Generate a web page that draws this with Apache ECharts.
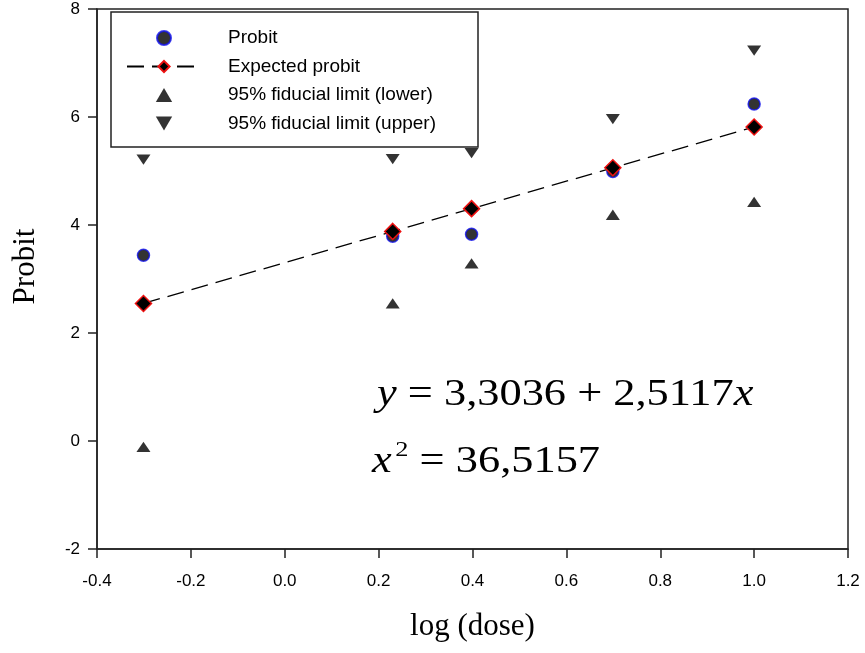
<!DOCTYPE html>
<html>
<head>
<meta charset="utf-8">
<script src="https://cdn.jsdelivr.net/npm/echarts@6/dist/echarts.min.js"></script>
<style>
  html, body { margin: 0; padding: 0; background: #fff; }
  #chart { width: 865px; height: 653px; }
</style>
</head>
<body>
<div id="chart"></div>
<script>
// log10 of dose
const logDose = [-0.301, 0.230, 0.398, 0.699, 1.0]
// observed probit
const probit = [3.44, 3.79, 3.83, 4.99, 6.24]
// expected probit, y = 3.3036 + 2.5117x
const expected = [2.547, 3.881, 4.303, 5.059, 5.815]
// 95% fiducial limits
const lowerLimit = [-0.11, 2.55, 3.29, 4.19, 4.43]
const upperLimit = [5.21, 5.22, 5.33, 5.96, 7.23]

const xTicks = { min: -0.4, max: 1.2, interval: 0.2 }
const yTicks = { min: -2, max: 8, interval: 2 }

const seriesNames = ['Probit', 'Expected probit', '95% fiducial limit (lower)', '95% fiducial limit (upper)']

const sans = 'Liberation Sans, Arial, sans-serif'
const serif = 'Liberation Serif, Times New Roman, serif'

// triangles as paths so the legend keeps their shape
const triUp = 'path://M7,0L14,12L0,12Z'
const triDown = 'path://M0,0L14,0L7,12Z'

const pair = (ys) => logDose.map((x, i) => [x, ys[i]])

const myChart = echarts.init(document.getElementById('chart'))

const axisCommon = {
  splitLine: { show: false },
  axisLine: { onZero: false, lineStyle: { color: '#222', width: 1.5 } },
  axisTick: { inside: false, length: 9, lineStyle: { color: '#222', width: 1.5 } }
}

const option = {
  animation: false,
  backgroundColor: '#fff',
  grid: {
    left: 97,
    right: 17,
    top: 9,
    bottom: 104,
    show: true,
    borderColor: '#222',
    borderWidth: 1.5
  },
  legend: {
    orient: 'vertical',
    left: 111,
    top: 12,
    padding: [16, 10, 16, 15],
    itemWidth: 74,
    itemHeight: 14,
    itemGap: 8.5,
    symbolKeepAspect: true,
    data: seriesNames,
    textStyle: {
      fontFamily: sans,
      fontSize: 19,
      color: '#000',
      lineHeight: 20,
      padding: [0, 0, 0, 22]
    }
  },
  xAxis: Object.assign({
    type: 'value',
    min: xTicks.min,
    max: xTicks.max,
    interval: xTicks.interval,
    name: 'log (dose)',
    nameLocation: 'middle',
    nameGap: 62,
    nameTextStyle: { fontFamily: serif, fontSize: 31, color: '#000' },
    axisLabel: {
      margin: 24,
      fontFamily: sans,
      fontSize: 17,
      color: '#000',
      formatter: (v) => v.toFixed(1)
    }
  }, axisCommon),
  yAxis: Object.assign({
    type: 'value',
    min: yTicks.min,
    max: yTicks.max,
    interval: yTicks.interval,
    name: 'Probit',
    nameLocation: 'middle',
    nameGap: 56,
    nameTextStyle: { fontFamily: serif, fontSize: 31, color: '#000', padding: [0, 0, 0, 25] },
    axisLabel: { margin: 17, fontFamily: sans, fontSize: 17, color: '#000' }
  }, axisCommon),
  series: [
    {
      name: seriesNames[0],
      type: 'scatter',
      data: pair(probit),
      symbol: 'circle',
      symbolSize: 12,
      itemStyle: { color: '#000', borderColor: '#1010ee', borderWidth: 1.5 },
      z: 3
    },
    {
      name: seriesNames[1],
      type: 'line',
      data: pair(expected),
      symbol: 'diamond',
      symbolSize: 16,
      lineStyle: { color: '#000', width: 1.3, type: [17, 8] },
      itemStyle: { color: '#000', borderColor: '#ee1111', borderWidth: 1.5 },
      z: 4
    },
    {
      name: seriesNames[2],
      type: 'scatter',
      data: pair(lowerLimit),
      symbol: triUp,
      symbolKeepAspect: true,
      symbolSize: [14, 12],
      itemStyle: { color: '#000' }
    },
    {
      name: seriesNames[3],
      type: 'scatter',
      data: pair(upperLimit),
      symbol: triDown,
      symbolKeepAspect: true,
      symbolSize: [14, 12],
      itemStyle: { color: '#000' }
    }
  ],
  graphic: [
    {
      // legend frame
      type: 'rect',
      shape: { x: 111, y: 12, width: 367, height: 135 },
      style: { fill: 'none', stroke: '#222', lineWidth: 1.5 },
      z: 10
    },
    {
      type: 'text',
      x: 377,
      y: 395,
      scaleX: 1.2,
      z: 10,
      style: {
        text: '{i|y} = 3,3036 + 2,5117{i|x}',
        fontFamily: serif,
        fontSize: 37,
        fill: '#000',
        verticalAlign: 'middle',
        rich: {
          i: { fontFamily: serif, fontSize: 37, fontStyle: 'italic', fill: '#000' }
        }
      }
    },
    {
      type: 'text',
      x: 372,
      y: 462,
      scaleX: 1.2,
      z: 10,
      style: {
        text: '{i|x}{s|2} = 36,5157',
        fontFamily: serif,
        fontSize: 37,
        fill: '#000',
        verticalAlign: 'middle',
        rich: {
          i: { fontFamily: serif, fontSize: 37, fontStyle: 'italic', fill: '#000' },
          s: { fontFamily: serif, fontSize: 22, fill: '#000', padding: [0, 0, 24, 3] }
        }
      }
    }
  ]
}

myChart.setOption(option)
window.addEventListener('resize', () => myChart.resize())
</script>
</body>
</html>
